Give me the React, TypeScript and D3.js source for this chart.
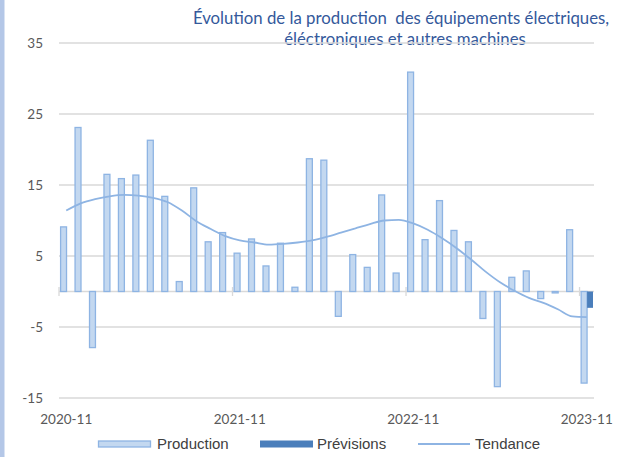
import React, { useEffect, useRef } from 'react';
import * as d3 from 'd3';

const months = [
  '2020-11', '2020-12', '2021-01', '2021-02', '2021-03', '2021-04', '2021-05', '2021-06', '2021-07', '2021-08',
  '2021-09', '2021-10', '2021-11', '2021-12', '2022-01', '2022-02', '2022-03', '2022-04', '2022-05', '2022-06',
  '2022-07', '2022-08', '2022-09', '2022-10', '2022-11', '2022-12', '2023-01', '2023-02', '2023-03', '2023-04',
  '2023-05', '2023-06', '2023-07', '2023-08', '2023-09', '2023-10', '2023-11',
];

const production = [
  9.1, 23.1, -7.9, 16.5, 15.9, 16.4, 21.3, 13.4, 1.4, 14.6,
  7.0, 8.3, 5.4, 7.4, 3.6, 6.8, 0.6, 18.7, 18.5, -3.5,
  5.2, 3.4, 13.6, 2.6, 30.9, 7.3, 12.8, 8.6, 7.0, -3.8,
  -13.4, 2.0, 2.9, -1.0, -0.2, 8.7, -12.9,
];

const previsions: (number | null)[] = [
  null, null, null, null, null, null, null, null, null, null,
  null, null, null, null, null, null, null, null, null, null,
  null, null, null, null, null, null, null, null, null, null,
  null, null, null, null, null, null, -2.3,
];

const tendance = [
  11.4, 12.4, 13.0, 13.4, 13.6, 13.5, 13.2, 12.6, 11.4, 9.9,
  8.8, 7.8, 7.2, 6.9, 6.6, 6.7, 6.9, 7.2, 7.7, 8.3,
  8.9, 9.5, 10.0, 10.1, 9.6, 8.7, 7.5, 6.1, 4.5, 2.8,
  1.3, 0.1, -0.9, -1.6, -2.5, -3.5, -3.6,
];

const yTicks = [35, 25, 15, 5, -5, -15];
const xTickLabels = ['2020-11', '2021-11', '2022-11', '2023-11'];
const seriesNames = ['Production', 'Prévisions'];

const titleLines = [
  'Évolution de la production  des équipements électriques,',
  'éléctroniques et autres machines',
];

export default function App() {
  const ref = useRef<SVGSVGElement>(null);

  useEffect(() => {
    const svg = d3.select(ref.current);
    svg.selectAll('*').remove();

    const left = 59, right = 594, top = 43, bottom = 398;

    const x = d3.scaleBand().domain(months).range([left, right]).paddingInner(0).paddingOuter(0);
    const xs = d3.scaleBand().domain(seriesNames).range([1.6, x.bandwidth() - 1]);
    const y = d3.scaleLinear().domain([-15, 35]).range([bottom, top]);

    // left edge stripe
    svg.append('rect').attr('x', 0).attr('y', 0).attr('width', 4.5).attr('height', 457).attr('fill', '#b4c7e7');

    // title
    svg.append('g')
      .selectAll('text')
      .data(titleLines)
      .enter()
      .append('text')
      .attr('x', (d, i) => (i === 0 ? 401 : 405))
      .attr('y', (d, i) => 24 + i * 21)
      .attr('text-anchor', 'middle')
      .attr('font-family', 'Lato, sans-serif')
      .attr('font-size', 16.8)
      .attr('fill', '#34599b')
      .style('white-space', 'pre')
      .text(d => d);

    // gridlines
    svg.append('g')
      .selectAll('line')
      .data(yTicks)
      .enter()
      .append('line')
      .attr('x1', left)
      .attr('x2', right)
      .attr('y1', d => y(d))
      .attr('y2', d => y(d))
      .attr('stroke', '#d9d9d9')
      .attr('stroke-width', 1.3);

    // y labels
    svg.append('g')
      .selectAll('text')
      .data(yTicks)
      .enter()
      .append('text')
      .attr('x', 43)
      .attr('y', d => y(d) + 4.5)
      .attr('text-anchor', 'end')
      .attr('font-family', 'Lato, sans-serif')
      .attr('font-size', 13.5)
      .attr('fill', '#595959')
      .text(d => d);

    // category axis at zero
    const y0 = y(0);
    svg.append('line')
      .attr('x1', left).attr('x2', right)
      .attr('y1', y0).attr('y2', y0)
      .attr('stroke', '#d9d9d9').attr('stroke-width', 1.3);

    svg.append('g')
      .selectAll('line')
      .data(xTickLabels)
      .enter()
      .append('line')
      .attr('x1', d => x(d)!)
      .attr('x2', d => x(d)!)
      .attr('y1', y0 - 4.5)
      .attr('y2', y0 + 4.5)
      .attr('stroke', '#d9d9d9')
      .attr('stroke-width', 1.3);

    svg.append('g')
      .selectAll('text')
      .data(xTickLabels)
      .enter()
      .append('text')
      .attr('x', d => x(d)! + x.bandwidth() / 2)
      .attr('y', 424)
      .attr('text-anchor', 'middle')
      .attr('font-family', 'Lato, sans-serif')
      .attr('font-size', 13.5)
      .attr('fill', '#595959')
      .text(d => d);

    // production bars
    svg.append('g')
      .selectAll('rect')
      .data(production)
      .enter()
      .append('rect')
      .attr('x', (d, i) => x(months[i])! + xs('Production')!)
      .attr('width', xs.bandwidth())
      .attr('y', d => y(Math.max(0, d)))
      .attr('height', d => Math.abs(y(d) - y0))
      .attr('fill', '#c3d8f0')
      .attr('stroke', '#8eb4e3')
      .attr('stroke-width', 1.3);

    // previsions bars
    const prev = previsions.map((v, i) => ({ v, m: months[i] })).filter(d => d.v !== null) as { v: number; m: string }[];
    svg.append('g')
      .selectAll('rect')
      .data(prev)
      .enter()
      .append('rect')
      .attr('x', d => x(d.m)! + xs('Prévisions')!)
      .attr('width', xs.bandwidth())
      .attr('y', d => y(Math.max(0, d.v)))
      .attr('height', d => Math.abs(y(d.v) - y0))
      .attr('fill', '#4a7ebb');

    // trend line
    const line = d3.line<number>()
      .x((d, i) => x(months[i])! + x.bandwidth() / 2)
      .y(d => y(d))
      .curve(d3.curveMonotoneX);

    svg.append('path')
      .datum(tendance)
      .attr('d', line)
      .attr('fill', 'none')
      .attr('stroke', '#8eb4e3')
      .attr('stroke-width', 1.8);

    // legend
    const lg = svg.append('g').attr('font-family', '"Liberation Sans", Arial, sans-serif').attr('font-size', 15).attr('fill', '#404040');
    lg.append('rect').attr('x', 98.5).attr('y', 441).attr('width', 52).attr('height', 6)
      .attr('fill', '#c3d8f0').attr('stroke', '#8eb4e3').attr('stroke-width', 1.3);
    lg.append('text').attr('x', 157).attr('y', 449).text('Production');
    lg.append('rect').attr('x', 260).attr('y', 440.5).attr('width', 53).attr('height', 7).attr('fill', '#4a7ebb');
    lg.append('text').attr('x', 317).attr('y', 449).text('Prévisions');
    lg.append('line').attr('x1', 418).attr('x2', 470).attr('y1', 444).attr('y2', 444)
      .attr('stroke', '#8eb4e3').attr('stroke-width', 1.8);
    lg.append('text').attr('x', 475).attr('y', 449).text('Tendance');
  }, []);

  return (
    <svg
      ref={ref}
      width={623}
      height={457}
      style={{ position: 'absolute', left: 0, top: 0, background: '#ffffff' }}
    />
  );
}
